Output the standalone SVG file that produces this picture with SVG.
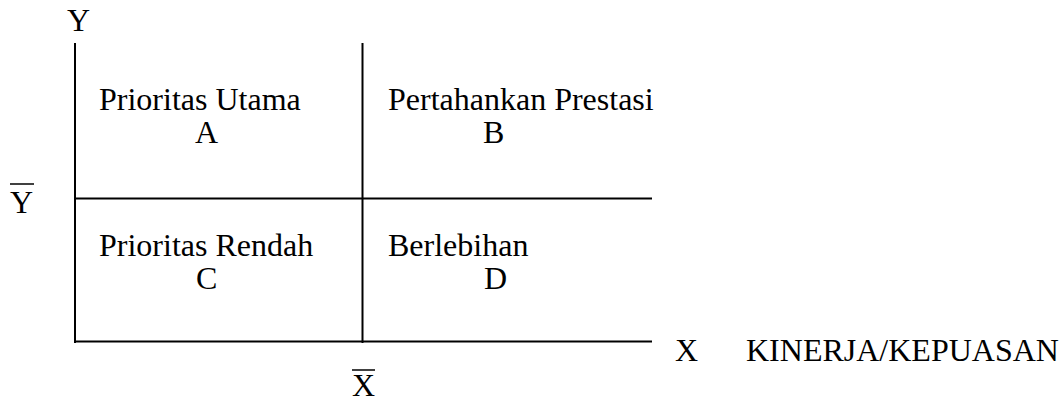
<svg xmlns="http://www.w3.org/2000/svg" width="1063" height="400" viewBox="0 0 1063 400">
<style>
text{font-family:"Liberation Serif","Times New Roman",serif;font-size:32px;fill:#000}
.ln{stroke:#000;stroke-width:2;fill:none}
.bar{stroke:#000;stroke-width:1.5}
</style>
<rect width="1063" height="400" fill="#fff"/>
<g id="axes">
<line class="ln" x1="75" y1="43" x2="75" y2="343"/>
<line class="ln" x1="362.5" y1="43" x2="362.5" y2="343"/>
<line class="ln" x1="75" y1="198.5" x2="652" y2="198.5"/>
<line class="ln" x1="74" y1="341.5" x2="652" y2="341.5"/>
</g>
<g id="axis-labels">
<text x="67" y="31">Y</text>
<text x="10" y="213">Y</text>
<line class="bar" x1="10" y1="184" x2="34" y2="184"/>
<text x="352" y="396">X</text>
<line class="bar" x1="352" y1="370" x2="375" y2="370"/>
<text x="675" y="361">X</text>
<text x="746" y="361">KINERJA/KEPUASAN</text>
</g>
<g id="quadrant-A">
<text x="99" y="110">Prioritas Utama</text>
<text x="195" y="143">A</text>
</g>
<g id="quadrant-B">
<text x="388" y="110">Pertahankan Prestasi</text>
<text x="483" y="143">B</text>
</g>
<g id="quadrant-C">
<text x="99" y="256">Prioritas Rendah</text>
<text x="196" y="289">C</text>
</g>
<g id="quadrant-D">
<text x="388" y="256">Berlebihan</text>
<text x="484" y="289">D</text>
</g>
</svg>
